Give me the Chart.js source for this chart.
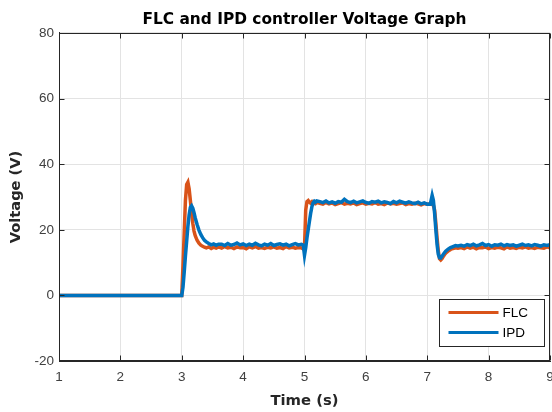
<!DOCTYPE html>
<html>
<head>
<meta charset="utf-8">
<title>FLC and IPD controller Voltage Graph</title>
<script src="https://cdn.jsdelivr.net/npm/chart.js@4.4.0/dist/chart.umd.min.js"></script>
<style>
  body { margin: 0; background: #fff; }
  #chart { display: block; }
</style>
</head>
<body>
<canvas id="chart" width="552" height="412"></canvas>
<script>
// sample times (s), one row per stretch of the run
const time = [
  1, 3,
  3.02, 3.04, 3.06, 3.08, 3.10, 3.12, 3.14, 3.16, 3.18, 3.20, 3.22, 3.25, 3.28, 3.31, 3.34, 3.37, 3.40, 3.44, 3.48, 3.52, 3.56, 3.60,
  3.65, 3.70, 3.75, 3.80, 3.85, 3.90, 3.95, 4.00, 4.05, 4.10, 4.15, 4.20, 4.25, 4.30, 4.35, 4.40, 4.45, 4.50, 4.55, 4.60, 4.65, 4.70, 4.75, 4.80, 4.85, 4.90, 4.95,
  4.98, 5.00, 5.02, 5.04, 5.06, 5.08, 5.10, 5.12, 5.14, 5.16, 5.18, 5.20,
  5.25, 5.30, 5.35, 5.40, 5.45, 5.50, 5.55, 5.60, 5.65, 5.70, 5.75, 5.80, 5.85, 5.90, 5.95, 6.00, 6.05, 6.10, 6.15, 6.20,
  6.25, 6.30, 6.35, 6.40, 6.45, 6.50, 6.55, 6.60, 6.65, 6.70, 6.75, 6.80, 6.85, 6.90, 6.95, 7.00, 7.05,
  7.08, 7.10, 7.12, 7.14, 7.16, 7.18, 7.20, 7.22, 7.24, 7.26, 7.28, 7.30, 7.34, 7.38, 7.42, 7.46, 7.50,
  7.55, 7.60, 7.65, 7.70, 7.75, 7.80, 7.85, 7.90, 7.95, 8.00, 8.05, 8.10, 8.15, 8.20, 8.25, 8.30, 8.35, 8.40, 8.45, 8.50,
  8.55, 8.60, 8.65, 8.70, 8.75, 8.80, 8.85, 8.90, 8.95, 9.00
]

// FLC output voltage (V)
const flc = [
  0, 0,
  9, 19, 29, 33.8, 34.5, 32.5, 29, 25.5, 22, 19.6, 18.2, 16.8, 15.9, 15.3, 15.0, 14.7, 14.5, 14.8, 14.3, 14.7, 14.4, 14.8,
  14.4, 14.9, 14.5, 14.7, 14.3, 14.8, 14.5, 14.6, 14.2, 14.8, 14.5, 14.9, 14.4, 14.6, 14.3, 14.7, 14.5, 14.8, 14.4, 14.6, 14.3, 14.9, 14.5, 14.7, 14.4, 14.6, 14.5,
  14.2, 14.6, 26, 28.6, 28.9, 28.4, 28.1, 28.5, 27.9, 28.2, 28.0, 28.3,
  28.1, 27.8, 28.3, 27.9, 28.2, 27.7, 28.0, 28.3, 27.8, 28.1, 27.9, 28.2, 27.7, 28.0, 28.2, 27.8, 28.1, 27.9, 28.3, 27.8,
  28.0, 27.7, 28.2, 27.9, 28.1, 27.8, 28.0, 28.2, 27.7, 28.0, 27.8, 28.1, 27.9, 27.6, 28.0, 27.8, 27.9,
  27.7, 27.5, 26, 22, 17.5, 13.5, 11.2, 10.8, 11.2, 11.8, 12.4, 12.9, 13.5, 14.0, 14.3, 14.5, 14.4,
  14.6, 14.3, 14.8, 14.4, 14.7, 14.2, 14.6, 14.5, 14.8, 14.3, 14.6, 14.4, 14.7, 14.5, 14.2, 14.8, 14.4, 14.6, 14.3, 14.7,
  14.5, 14.8, 14.4, 14.6, 14.3, 14.7, 14.5, 14.4, 14.8, 14.5
]

// IPD output voltage (V)
const ipd = [
  0, 0,
  2.5, 7, 12, 16.5, 21, 24.5, 26.8, 27.3, 26.6, 25.2, 23.6, 21.6, 19.9, 18.6, 17.6, 16.8, 16.3, 15.8, 15.4, 15.7, 15.3, 15.6,
  15.6, 15.2, 15.8, 15.3, 15.5, 16.0, 15.4, 15.7, 15.2, 15.6, 15.3, 15.9, 15.4, 15.1, 15.6, 15.3, 15.8, 15.2, 15.5, 15.7, 15.3, 15.6, 15.1, 15.5, 15.8, 15.4, 15.6,
  15.3, 12.2, 14.5, 17.5, 20, 22.5, 25, 27, 28.2, 28.7, 28.4, 28.8,
  28.6, 28.3, 28.8, 28.2, 28.5, 28.1, 28.6, 28.4, 29.3, 28.6, 28.3, 28.7, 28.2, 28.5, 28.8, 28.3, 28.1, 28.6, 28.4, 28.7,
  28.2, 28.5, 28.3, 28.0, 28.6, 28.2, 28.7, 28.4, 28.1, 28.5, 28.2, 28.0, 28.4, 27.9, 28.2, 27.8, 27.8,
  30.5, 29, 25, 20, 15.5, 12.5, 11.5, 11.4, 11.9, 12.5, 13.0, 13.5, 14.1, 14.6, 14.9, 15.2, 15.1,
  15.3, 15.0, 15.5, 15.2, 15.6, 15.1, 15.4, 15.8, 15.2, 15.5, 15.0, 15.4, 15.3, 15.6, 15.1, 15.5, 15.2, 15.4, 15.0, 15.3,
  15.6, 15.2, 15.4, 15.1, 15.5, 15.3, 15.0, 15.4, 15.2, 15.5
]

const xTicks = [1, 2, 3, 4, 5, 6, 7, 8, 9]
const yTicks = [-20, 0, 20, 40, 60, 80]

const FONT = "'Liberation Sans', Arial, Helvetica, sans-serif"
const BOLD_FONT = "'DejaVu Sans', Verdana, sans-serif"
const ORANGE = '#D95319'
const BLUE = '#0072BD'
const AXIS = '#262626'

function points(values){
  return time.map((t, i) => ({x: t, y: values[i]}))
}

// box around the axes, inward ticks and the legend in the lower right corner
const frame = {
  id: 'frame',
  afterDraw(chart){
    const {ctx, chartArea: a, scales: {x, y}} = chart
    const L = Math.round(a.left) + 0.5
    const R = Math.round(a.right) - 0.5
    const T = Math.round(a.top) + 0.5
    const B = Math.round(a.bottom) - 0.5
    ctx.save()
    ctx.strokeStyle = AXIS
    ctx.lineWidth = 1
    ctx.strokeRect(L, T, R - L, B - T)

    ctx.beginPath()
    xTicks.forEach(v => {
      const px = Math.round(x.getPixelForValue(v)) + 0.5
      ctx.moveTo(px, B); ctx.lineTo(px, B - 5)
      ctx.moveTo(px, T); ctx.lineTo(px, T + 5)
    })
    yTicks.forEach(v => {
      const py = Math.round(y.getPixelForValue(v)) + 0.5
      ctx.moveTo(L, py); ctx.lineTo(L + 5, py)
      ctx.moveTo(R, py); ctx.lineTo(R - 5, py)
    })
    ctx.stroke()

    // legend
    const bw = 105, bh = 47
    const bx = Math.round(a.right) - 6 - bw + 0.5
    const by = Math.round(a.bottom) - 15 - bh + 0.5
    ctx.fillStyle = '#fff'
    ctx.fillRect(bx, by, bw, bh)
    ctx.strokeRect(bx, by, bw, bh)

    const items = [
      {label: chart.data.datasets[0].label, color: ORANGE},
      {label: chart.data.datasets[1].label, color: BLUE}
    ]
    ctx.font = '13.5px ' + FONT
    ctx.textBaseline = 'middle'
    ctx.textAlign = 'left'
    items.forEach((it, i) => {
      const ly = by + 13 + i * 20
      ctx.strokeStyle = it.color
      ctx.lineWidth = 3
      ctx.beginPath()
      ctx.moveTo(bx + 9, ly)
      ctx.lineTo(bx + 59, ly)
      ctx.stroke()
      ctx.fillStyle = '#000'
      ctx.fillText(it.label, bx + 63, ly + 1)
    })
    ctx.restore()
  }
}

const ctx = document.getElementById('chart')
const myChart = new Chart(ctx, {
  type: 'line',
  data: {
    datasets: [
      {
        label: 'FLC',
        data: points(flc),
        borderColor: ORANGE,
        backgroundColor: ORANGE,
        borderWidth: 3.5,
        pointRadius: 0,
        tension: 0,
        order: 1,
      },
      {
        label: 'IPD',
        data: points(ipd),
        borderColor: BLUE,
        backgroundColor: BLUE,
        borderWidth: 3.5,
        pointRadius: 0,
        tension: 0,
        order: 0,
      },
    ],
  },
  options: {
    responsive: false,
    animation: false,
    devicePixelRatio: 1,
    layout: {padding: {left: 0, right: 2, top: 0, bottom: 0}},
    plugins: {
      legend: {display: false},
      tooltip: {enabled: false},
      title: {
        display: true,
        text: 'FLC and IPD controller Voltage Graph',
        fullSize: false,
        color: '#000',
        font: {family: BOLD_FONT, size: 15.4, weight: 'bold'},
        padding: {top: 10.8, bottom: 3.7},
      },
    },
    scales: {
      x: {
        type: 'linear',
        min: 1,
        max: 9,
        afterBuildTicks: s => { s.ticks = xTicks.map(v => ({value: v})) },
        afterFit: s => { s.height = 51; s.paddingLeft = 0; s.paddingRight = 0 },
        ticks: {color: '#404040', font: {family: FONT, size: 13.5}, padding: 8, maxRotation: 0},
        grid: {color: '#e3e3e3', drawTicks: false},
        border: {display: true, color: AXIS},
        title: {
          display: true,
          text: 'Time (s)',
          color: AXIS,
          font: {family: BOLD_FONT, size: 14.8, weight: 'bold'},
          padding: {top: 0, bottom: 2},
        },
      },
      y: {
        min: -20,
        max: 80,
        afterBuildTicks: s => { s.ticks = yTicks.map(v => ({value: v})) },
        afterFit: s => { s.width = 59; s.paddingTop = 0; s.paddingBottom = 0 },
        ticks: {color: '#404040', font: {family: FONT, size: 13.5}, padding: 5},
        grid: {color: '#e3e3e3', drawTicks: false},
        border: {display: true, color: AXIS},
        title: {
          display: true,
          text: 'Voltage (V)',
          color: AXIS,
          font: {family: BOLD_FONT, size: 14.6, weight: 'bold'},
          padding: {top: 7, bottom: 0},
        },
      },
    },
  },
  plugins: [frame],
})
</script>
</body>
</html>
